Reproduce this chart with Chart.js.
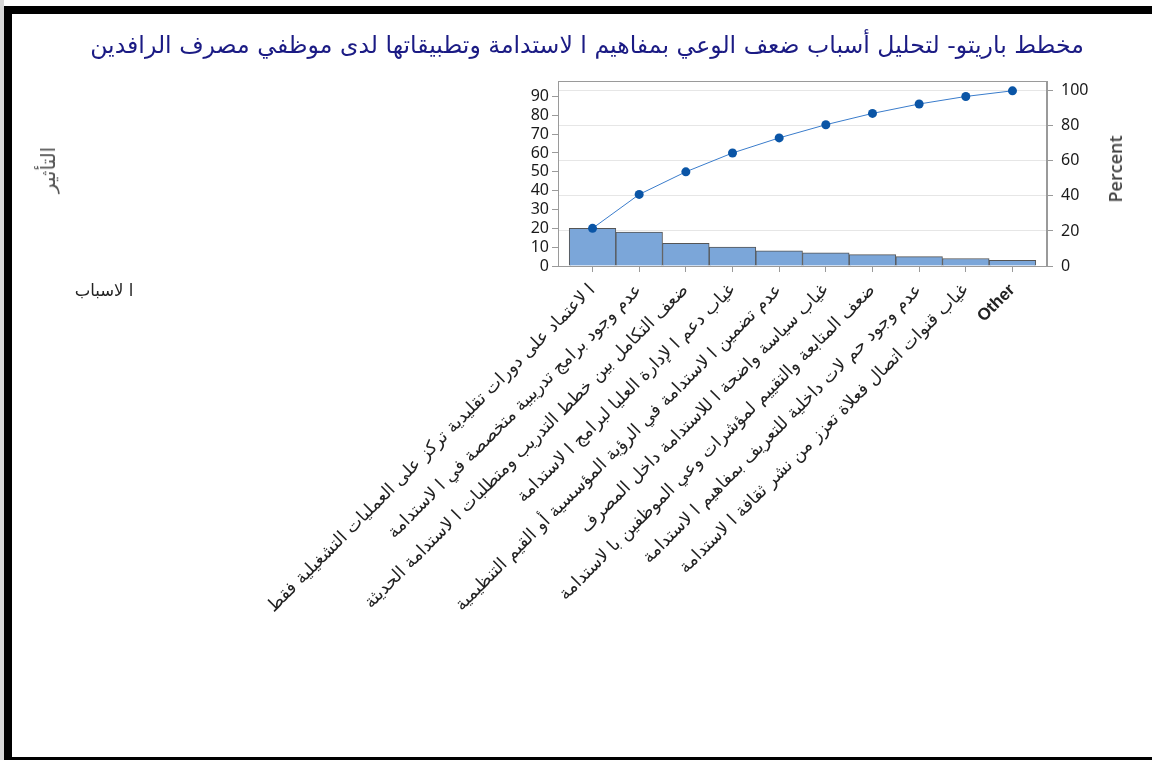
<!DOCTYPE html>
<html lang="ar">
<head>
<meta charset="utf-8">
<script src="https://cdn.jsdelivr.net/npm/chart.js@4.4.1/dist/chart.umd.min.js"></script>
<style>
  html, body { margin: 0; padding: 0; background: #fff; }
  #wrap { position: relative; width: 1152px; height: 760px; overflow: hidden; background: #fff; }
  #edge { position: absolute; left: 0; top: 0; width: 4px; height: 760px; background: #d8d8d8; }
  #frame { position: absolute; left: 4px; top: 6px; width: 1200px; height: 759px; border: 8px solid #000; box-sizing: border-box; }
  canvas { position: absolute; left: 0; top: 0; }
  .txt { position: absolute; white-space: nowrap; font-family: 'DejaVu Sans', sans-serif; }
  #title { left: 22px; width: 1130px; top: 30px; line-height: 30px; text-align: center; font-size: 23.6px; color: #1b1b84; }
  #effect { left: 48px; top: 170px; font-size: 20px; color: #555; transform: translate(-50%, -50%) rotate(-90deg); }
  #causes { left: 104px; top: 290px; font-size: 16.5px; color: #222; transform: translate(-50%, -50%); }
  #percent { left: 1115px; top: 169px; font-family: 'Open Sans', sans-serif; font-weight: 600; font-size: 18px; color: #444; transform: translate(-50%, -50%) rotate(-90deg); }
</style>
</head>
<body>
<div id="wrap">
  <div id="edge"></div>
  <div id="frame"></div>
  <canvas id="paretoChart" width="1152" height="760"></canvas>
  <div class="txt" id="title" dir="rtl">مخطط باريتو- لتحليل أسباب ضعف الوعي بمفاهيم ا لاستدامة وتطبيقاتها لدى موظفي مصرف الرافدين</div>
  <div class="txt" id="effect" dir="rtl">التأثير</div>
  <div class="txt" id="causes" dir="rtl">ا لاسباب</div>
  <div class="txt" id="percent">Percent</div>
</div>
<script>
// الاسباب (مرتبة تنازليا حسب التأثير)
const categories = [
  'ا لاعتماد على دورات تقليدية تركز على العمليات التشغيلية فقط',
  'عدم وجود برامج تدريبية متخصصة في ا لاستدامة',
  'ضعف التكامل بين خطط التدريب ومتطلبات ا لاستدامة الحديثة',
  'غياب دعم ا لإدارة العليا لبرامج ا لاستدامة',
  'عدم تضمين ا لاستدامة في الرؤية المؤسسية أو القيم التنظيمية',
  'غياب سياسة واضحة ا للاستدامة داخل المصرف',
  'ضعف المتابعة والتقييم لمؤشرات وعي الموظفين با لاستدامة',
  'عدم وجود حم لات داخلية للتعريف بمفاهيم ا لاستدامة',
  'غياب قنوات اتصال فعلاة تعزز من نشر ثقافة ا لاستدامة',
  'Other'
];
const counts = [20, 18, 12, 10, 8, 7, 6, 5, 4, 3];
const countTicks = [0, 10, 20, 30, 40, 50, 60, 70, 80, 90];
const percentTicks = [0, 20, 40, 60, 80, 100];

const total = counts.reduce((a, b) => a + b, 0);
let running = 0;
const cumPercent = counts.map(c => { running += c; return running / total * 100; });

const headroom = 1.056;
const axisGray = '#9a9a9a';
const numFont = { family: "'Noto Sans', 'DejaVu Sans', sans-serif", size: 16 };

// اطار منطقة الرسم
const plotFrame = {
  id: 'plotFrame',
  beforeDatasetsDraw(chart) {
    const { ctx, chartArea: a } = chart;
    ctx.save();
    ctx.strokeStyle = axisGray;
    ctx.lineWidth = 1;
    ctx.strokeRect(a.left + 0.5, a.top + 0.5, a.right - a.left - 1, a.bottom - a.top);
    ctx.restore();
  }
};

new Chart(document.getElementById('paretoChart'), {
  data: {
    datasets: [
      {
        type: 'line',
        label: 'Percent',
        data: cumPercent.map((v, i) => ({ x: i, y: v })),
        yAxisID: 'y2',
        borderColor: '#3a7ccb',
        borderWidth: 1,
        pointRadius: 4.5,
        pointBackgroundColor: '#0a55a6',
        pointBorderWidth: 0,
        order: 0
      },
      {
        type: 'bar',
        label: 'Count',
        data: counts.map((v, i) => ({ x: i, y: v })),
        yAxisID: 'y',
        backgroundColor: '#7ba6d9',
        borderColor: '#555',
        borderWidth: 1,
        barPercentage: 1,
        categoryPercentage: 1,
        order: 1
      }
    ]
  },
  options: {
    responsive: false,
    animation: false,
    layout: { padding: { left: 518, right: 55, top: 81, bottom: 0 } },
    plugins: { legend: { display: false }, tooltip: { enabled: false } },
    scales: {
      x: {
        type: 'linear',
        position: 'bottom',
        offset: false,
        min: -0.74,
        max: 9.74,
        afterBuildTicks: s => { s.ticks = categories.map((c, i) => ({ value: i })); },
        afterFit: s => { s.height = 494; },
        grid: { offset: false, drawOnChartArea: false, color: axisGray, tickLength: 6 },
        border: { color: axisGray },
        ticks: {
          autoSkip: false,
          minRotation: 45,
          maxRotation: 45,
          padding: 8,
          color: '#222',
          font: c => c.index === categories.length - 1
            ? { family: "'Liberation Sans', sans-serif", size: 17, weight: 'bold' }
            : { family: "'DejaVu Sans', sans-serif", size: 17.6 },
          callback: v => categories[v]
        }
      },
      y: {
        position: 'left',
        min: 0,
        max: total * headroom,
        afterBuildTicks: s => { s.ticks = countTicks.map(v => ({ value: v })); },
        afterFit: s => { s.width = 40; },
        grid: { drawOnChartArea: false, color: axisGray, tickLength: 6 },
        border: { color: axisGray },
        ticks: { autoSkip: false, color: '#1a1a1a', font: numFont, padding: 3 }
      },
      y2: {
        position: 'right',
        min: 0,
        max: 100 * headroom,
        afterBuildTicks: s => { s.ticks = percentTicks.map(v => ({ value: v })); },
        afterFit: s => { s.width = 50; },
        grid: { drawOnChartArea: true, color: '#e6e6e6', tickColor: axisGray, tickLength: 6 },
        border: { color: axisGray },
        ticks: { autoSkip: false, color: '#1a1a1a', font: numFont, padding: 8 }
      }
    }
  },
  plugins: [plotFrame]
});
</script>
</body>
</html>
